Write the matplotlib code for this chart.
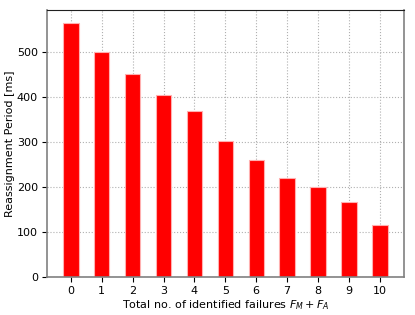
import matplotlib
matplotlib.use("Agg")
import matplotlib.pyplot as plt

failures = list(range(11))
periods = [566, 501, 451, 405, 370, 303, 260, 220, 201, 166, 115]

fig = plt.figure(figsize=(4.15, 3.15), dpi=100)
ax = fig.add_axes([0.113, 0.121, 0.86, 0.847])
ax.bar(failures, periods, width=0.5, color='red', edgecolor='#ffb0b0', linewidth=0.8, zorder=2)
ax.set_xticks(failures)
ax.set_yticks([0, 100, 200, 300, 400, 500])
ax.tick_params(labelsize=8, pad=3)
ax.grid(True, linestyle=':', color='#b0b0b0', linewidth=0.8, zorder=0)
ax.set_axisbelow(True)
ax.set_xlabel('Total no. of identified failures $F_M + F_A$', fontsize=8, labelpad=2)
ax.set_ylabel('Reassignment Period [ms]', fontsize=8, labelpad=1)
for s in ['left', 'bottom', 'right']:
    ax.spines[s].set_color('#808080')
    ax.spines[s].set_linewidth(1.2)
ax.spines['top'].set_color('#202020')
fig.savefig('out.png', dpi=100)
